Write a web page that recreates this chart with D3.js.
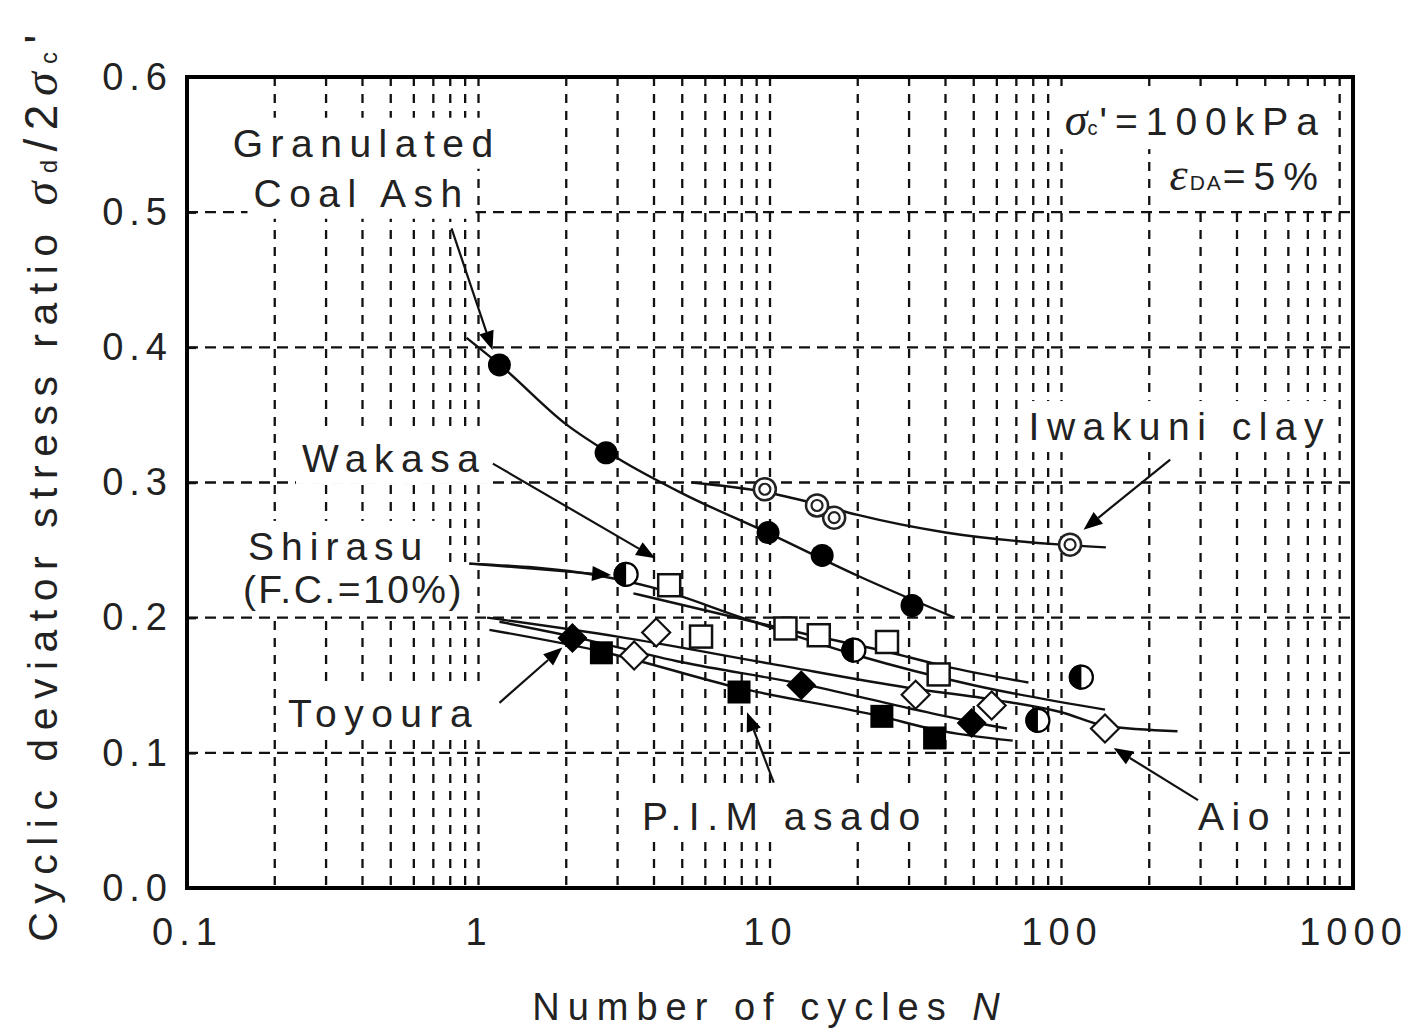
<!DOCTYPE html>
<html>
<head>
<meta charset="utf-8">
<script src="https://cdn.jsdelivr.net/npm/d3@7"></script>
<style>
  html, body { margin: 0; background: #fff; }
  svg text { font-family: "Liberation Sans", Arial, sans-serif; fill: #222; }
</style>
</head>
<body>
<svg id="chart" width="1408" height="1032"></svg>
<script>
// Measured points: [number of cycles N, cyclic deviator stress ratio]
const coalAsh     = [[1.18, 0.387], [2.74, 0.322], [9.85, 0.263], [15.1, 0.246], [30.7, 0.209]];
const iwakuniClay = [[9.6, 0.295], [16.6, 0.274], [14.5, 0.283], [107, 0.254]];
const shirasu     = [[3.21, 0.232], [19.4, 0.176], [83, 0.124], [117, 0.156]];
const wakasa      = [[4.51, 0.224], [5.8, 0.186], [11.3, 0.192], [14.7, 0.187], [25.2, 0.182], [37.9, 0.158]];
const toyoura     = [[2.1, 0.185], [12.8, 0.150], [49.2, 0.122]];
const masado      = [[2.64, 0.174], [7.83, 0.145], [24.2, 0.127], [36.7, 0.111]];
const aio         = [[3.42, 0.172], [4.07, 0.189], [31.6, 0.143], [57.6, 0.135], [141, 0.118]];

// Trend curves drawn through each material's results
const coalAshFit  = [[0.91, 0.407], [1.2, 0.386], [2, 0.343], [3, 0.318], [5, 0.292], [10, 0.262], [20, 0.231], [43, 0.200]];
const iwakuniFit  = [[5.4, 0.300], [9.6, 0.293], [14.5, 0.284], [20, 0.276], [40, 0.263], [100, 0.254], [142, 0.252]];
const shirasuFit  = [[0.93, 0.240], [2.6, 0.231], [4, 0.222], [8, 0.200], [20, 0.172], [50, 0.150], [141, 0.132]];
const wakasaFit   = [[3.4, 0.218], [8, 0.199], [12.6, 0.189], [25, 0.175], [40, 0.164], [77, 0.152]];
const aioFit      = [[1.07, 0.200], [3, 0.186], [10, 0.166], [30, 0.148], [60, 0.139], [100, 0.130], [141, 0.120], [250, 0.116]];
const toyouraFit  = [[1.18, 0.197], [2.1, 0.186], [5, 0.167], [12.8, 0.151], [30, 0.133], [49, 0.123], [65, 0.118]];
const masadoFit   = [[1.09, 0.191], [2.64, 0.175], [7.83, 0.148], [24, 0.127], [37, 0.117], [68, 0.109]];

// Axis tick labels
const xTickValues = [0.1, 1, 10, 100, 1000];
const xTickLabels = ["0.1", "1", "10", "100", "1000"];
const yTickValues = [0, 0.1, 0.2, 0.3, 0.4, 0.5, 0.6];
const yTickLabels = ["0.0", "0.1", "0.2", "0.3", "0.4", "0.5", "0.6"];

// Leader arrows: [from, to] in data units
const leaders = [
  [[0.808, 0.488], [1.117, 0.398]],
  [[236, 0.317], [119, 0.265]],
  [[1.12, 0.314], [4.04, 0.244]],
  [[0.93, 0.240], [2.85, 0.2315]],
  [[1.18, 0.137], [1.94, 0.178]],
  [[10.3, 0.078], [8.34, 0.130]],
  [[294, 0.065], [151, 0.1036]]
];

// Material names
const nameLabels = [
  {text: "Granulated", n: 0.4135, r: 0.541, anchor: "middle", sp: 7.5},
  {text: "Coal Ash",   n: 0.397,  r: 0.504, anchor: "middle", sp: 7.5},
  {text: "Wakasa",     n: 0.248,  r: 0.3078, anchor: "start", sp: 7.5},
  {text: "Shirasu",    n: 0.162,  r: 0.2427, anchor: "start", sp: 7},
  {text: "(F.C.=10%)", n: 0.1555, r: 0.2108, anchor: "start", sp: 2.5},
  {text: "Toyoura",    n: 0.222,  r: 0.119, anchor: "start", sp: 7.5},
  {text: "P.I.M asado", n: 3.64,  r: 0.0429, anchor: "start", sp: 7.5},
  {text: "Aio",        n: 294,    r: 0.0429, anchor: "start", sp: 7.5},
  {text: "Iwakuni clay", n: 77.1, r: 0.3314, anchor: "start", sp: 7.5}
];

const svg = d3.select("#chart");
const x = d3.scaleLog().domain([0.1, 1000]).range([187, 1353]);
const y = d3.scaleLinear().domain([0, 0.6]).range([888, 77]);

const labelFont = 39;

// ---- grid ----
const grid = svg.append("g");
const xGrid = x.ticks().filter(v => v > 0.1 && v < 1000);
grid.selectAll("line.v").data(xGrid).join("line")
  .attr("x1", d => x(d)).attr("x2", d => x(d))
  .attr("y1", y(0.6)).attr("y2", y(0))
  .attr("stroke", "#111").attr("stroke-width", 2.3).attr("stroke-dasharray", "9,8");
const yGrid = y.ticks(6).filter(v => v > 0.001 && v < 0.599);
grid.selectAll("line.h").data(yGrid).join("line")
  .attr("x1", x(0.1)).attr("x2", x(1000))
  .attr("y1", d => y(d)).attr("y2", d => y(d))
  .attr("stroke", "#111").attr("stroke-width", 2.3).attr("stroke-dasharray", "11,7");

// ---- axes (tick labels and inward ticks) ----
const yAxis = svg.append("g").attr("transform", `translate(${x(0.1)},0)`)
  .call(d3.axisLeft(y).tickValues(yTickValues)
    .tickFormat((d, i) => yTickLabels[i]).tickSizeInner(-9).tickSizeOuter(0).tickPadding(14));
const xAxis = svg.append("g").attr("transform", `translate(0,${y(0)})`)
  .call(d3.axisBottom(x).tickValues(xTickValues)
    .tickFormat((d, i) => xTickLabels[i]).tickSize(0).tickPadding(30));
[xAxis, yAxis].forEach(g => {
  g.select(".domain").remove();
  g.selectAll("line").attr("stroke", "#111").attr("stroke-width", 2.5);
  g.selectAll("text").attr("font-size", 38).attr("fill", "#2a2a2a")
    .style("letter-spacing", "6px")
    .attr("font-family", "\"Liberation Sans\", Arial, sans-serif");
});

// ---- label boxes and texts ----
const boxLayer = svg.append("g");
const curveLayer = svg.append("g");
const markerLayer = svg.append("g");
const arrowLayer = svg.append("g");
const textLayer = svg.append("g");

function boxBehind(node, px, py) {
  const b = node.getBBox();
  boxLayer.append("rect")
    .attr("x", b.x - px).attr("y", b.y - py)
    .attr("width", b.width + 2 * px).attr("height", b.height + 2 * py)
    .attr("fill", "#fff");
}

nameLabels.forEach(l => {
  const t = textLayer.append("text")
    .attr("x", x(l.n)).attr("y", y(l.r))
    .attr("text-anchor", l.anchor)
    .attr("font-size", labelFont)
    .style("letter-spacing", l.sp + "px")
    .text(l.text);
  boxBehind(t.node(), 6, 4);
});

// test conditions
const greek = "\"Liberation Serif\", serif";
const cond1 = textLayer.append("text")
  .attr("x", x(808)).attr("y", y(0.557)).attr("text-anchor", "end")
  .attr("font-size", labelFont).style("letter-spacing", "8px");
cond1.append("tspan").attr("font-family", greek).attr("font-style", "italic").attr("font-size", 46)
  .style("letter-spacing", "0px").text("σ");
cond1.append("tspan").attr("font-size", 20).style("letter-spacing", "2px").text("c");
cond1.append("tspan").text("'=100kPa");
boxBehind(cond1.node(), 6, 4);

const cond2 = textLayer.append("text")
  .attr("x", x(808)).attr("y", y(0.5164)).attr("text-anchor", "end")
  .attr("font-size", labelFont).style("letter-spacing", "8px");
cond2.append("tspan").attr("font-family", greek).attr("font-style", "italic").attr("font-size", 46)
  .style("letter-spacing", "2px").text("ε");
cond2.append("tspan").attr("font-size", 21).style("letter-spacing", "2px").text("DA");
cond2.append("tspan").text("=5%");
boxBehind(cond2.node(), 10, 6);

// ---- trend curves ----
const line = d3.line().x(d => x(d[0])).y(d => y(d[1])).curve(d3.curveMonotoneX);
[coalAshFit, iwakuniFit, shirasuFit, wakasaFit, aioFit, toyouraFit, masadoFit].forEach(f => {
  curveLayer.append("path").attr("d", line(f))
    .attr("fill", "none").attr("stroke", "#111").attr("stroke-width", 2.4);
});

// ---- markers ----
const R = 11.5;
function pts(data) {
  return markerLayer.append("g").selectAll("g").data(data).join("g")
    .attr("transform", d => `translate(${x(d[0])},${y(d[1])})`);
}
pts(coalAsh).append("circle").attr("r", R).attr("fill", "#000");

const ic = pts(iwakuniClay);
ic.append("circle").attr("r", 11).attr("fill", "#fff").attr("stroke", "#222").attr("stroke-width", 2.5);
ic.append("circle").attr("r", 5.5).attr("fill", "none").attr("stroke", "#222").attr("stroke-width", 2.2);

const sh = pts(shirasu);
sh.append("circle").attr("r", 11.5).attr("fill", "#fff").attr("stroke", "#000").attr("stroke-width", 2.2);
sh.append("path").attr("d", "M0,-12.6 A12.6,12.6 0 0 0 0,12.6 Z").attr("fill", "#000");

pts(wakasa).append("rect").attr("x", -11).attr("y", -11).attr("width", 22).attr("height", 22)
  .attr("fill", "#fff").attr("stroke", "#111").attr("stroke-width", 2.5);

pts(masado).append("rect").attr("x", -11.5).attr("y", -11.5).attr("width", 23).attr("height", 23)
  .attr("fill", "#000");

pts(toyoura).append("path").attr("d", "M0,-15 L15,0 L0,15 L-15,0 Z").attr("fill", "#000");
pts(aio).append("path").attr("d", "M0,-14 L14,0 L0,14 L-14,0 Z")
  .attr("fill", "#fff").attr("stroke", "#111").attr("stroke-width", 2.2);

// ---- leader arrows ----
leaders.forEach(([a, b]) => {
  const x0 = x(a[0]), y0 = y(a[1]), x1 = x(b[0]), y1 = y(b[1]);
  const ang = Math.atan2(y1 - y0, x1 - x0);
  const L = 19, Wd = 7.5;
  const bx = x1 - L * Math.cos(ang), by = y1 - L * Math.sin(ang);
  arrowLayer.append("line").attr("x1", x0).attr("y1", y0).attr("x2", bx).attr("y2", by)
    .attr("stroke", "#111").attr("stroke-width", 2.2);
  const p = [
    [x1, y1],
    [bx + Wd * Math.sin(ang), by - Wd * Math.cos(ang)],
    [bx - Wd * Math.sin(ang), by + Wd * Math.cos(ang)]
  ];
  arrowLayer.append("polygon").attr("points", p.map(q => q.join(",")).join(" ")).attr("fill", "#000");
});

// ---- frame ----
svg.append("rect")
  .attr("x", x(0.1)).attr("y", y(0.6))
  .attr("width", x(1000) - x(0.1)).attr("height", y(0) - y(0.6))
  .attr("fill", "none").attr("stroke", "#000").attr("stroke-width", 4);

// ---- axis titles ----
const xt = svg.append("text")
  .attr("x", (x(0.1) + x(1000)) / 2).attr("y", 1020)
  .attr("text-anchor", "middle").attr("font-size", 38)
  .style("letter-spacing", "8px").attr("fill", "#2a2a2a");
xt.append("tspan").text("Number of cycles ");
xt.append("tspan").attr("font-style", "italic").text("N");

const yt = svg.append("text")
  .attr("transform", "translate(57,484) rotate(-90)")
  .attr("text-anchor", "middle").attr("font-size", 41)
  .style("letter-spacing", "8.5px").attr("fill", "#2a2a2a");
yt.append("tspan").text("Cyclic deviator stress ratio  ");
yt.append("tspan").attr("font-family", greek).attr("font-style", "italic").attr("font-size", 48).text("σ");
yt.append("tspan").attr("font-size", 24).text("d");
yt.append("tspan").attr("font-size", 46).text("/2");
yt.append("tspan").attr("font-family", greek).attr("font-style", "italic").attr("font-size", 48).text("σ");
yt.append("tspan").attr("font-size", 24).text("c");
yt.append("tspan").attr("font-size", 46).text("'");
</script>
</body>
</html>
